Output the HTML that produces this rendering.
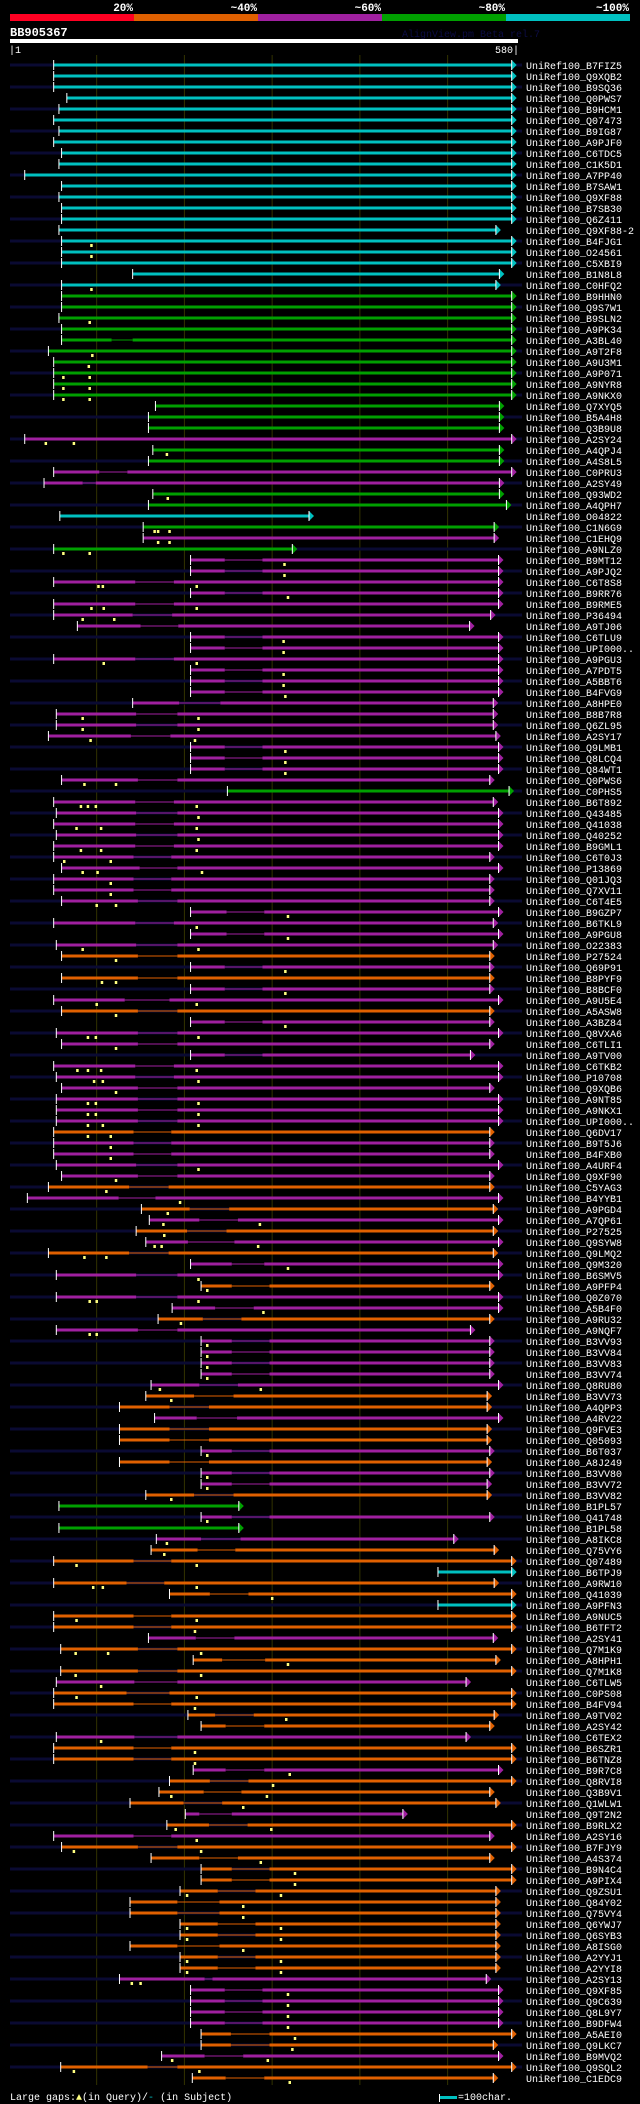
<!DOCTYPE html>
<html><head><meta charset="utf-8"><title>BB905367 alignment</title>
<style>
html,body{margin:0;padding:0;background:#000;}
svg{display:block;}
text{font-family:"Liberation Mono",monospace;}
</style></head>
<body>
<svg id="chart" width="640" height="2104" viewBox="0 0 640 2104" xmlns="http://www.w3.org/2000/svg">
<rect x="0" y="0" width="640" height="2104" fill="#000"/>
<g>
<rect x="10" y="14" width="124" height="7" fill="#ff0022"/>
<rect x="134" y="14" width="124" height="7" fill="#e06000"/>
<rect x="258" y="14" width="124" height="7" fill="#a020a0"/>
<rect x="382" y="14" width="124" height="7" fill="#00a000"/>
<rect x="506" y="14" width="124" height="7" fill="#00c0c0"/>
<text x="133" y="11" fill="#fff" font-size="11" font-weight="bold" text-anchor="end">20%</text>
<text x="257" y="11" fill="#fff" font-size="11" font-weight="bold" text-anchor="end">~40%</text>
<text x="381" y="11" fill="#fff" font-size="11" font-weight="bold" text-anchor="end">~60%</text>
<text x="505" y="11" fill="#fff" font-size="11" font-weight="bold" text-anchor="end">~80%</text>
<text x="629" y="11" fill="#fff" font-size="11" font-weight="bold" text-anchor="end">~100%</text>
</g>
<text x="10" y="36" fill="#fff" font-size="12" font-weight="bold">BB905367</text>
<text x="402" y="37" fill="#0c0c44" font-size="10">AlignView.pm Beta rel.7</text>
<rect x="10" y="39" width="508" height="4" fill="#fff"/>
<text x="9" y="53" fill="#fff" font-size="10">|1</text>
<text x="519" y="53" fill="#fff" font-size="10" text-anchor="end">580|</text>
<g id="grid"></g>
<g id="rows"></g>
<g>
<text x="10" y="2100" fill="#fff" font-size="10">Large gaps:<tspan fill="#ffff80">▲</tspan>(in Query)/<tspan fill="#00c0c0">-</tspan> (in Subject)</text>
<rect x="439" y="2094" width="1" height="8" fill="#fff"/>
<rect x="440" y="2096" width="17" height="3" fill="#00c0c0"/>
<text x="458" y="2100" fill="#fff" font-size="10">=100char.</text>
</g>
</svg>
<script>
const labels=[
"B7FIZ5","Q9XQB2","B9SQ36","Q0PWS7","B9HCM1","Q07473","B9IG87","A9PJF0","C6TDC5","C1K5D1",
"A7PP40","B7SAW1","Q9XF88","B7SB30","Q6Z411","Q9XF88-2","B4FJG1","O24561","C5XBI9","B1N8L8",
"C0HFQ2","B9HHN0","Q9S7W1","B9SLN2","A9PK34","A3BL40","A9T2F8","A9U3M1","A9P071","A9NYR8",
"A9NKX0","Q7XYQ5","B5A4H8","Q3B9U8","A2SY24","A4QPJ4","A4S8L5","C0PRU3","A2SY49","Q93WD2",
"A4QPH7","O04822","C1N6G9","C1EHQ9","A9NLZ0","B9MT12","A9PJQ2","C6T8S8","B9RR76","B9RME5",
"P36494","A9TJ06","C6TLU9","UPI000..","A9PGU3","A7PDT5","A5BBT6","B4FVG9","A8HPE0","B8B7R8",
"Q6ZL95","A2SY17","Q9LMB1","Q8LCQ4","Q84WT1","Q0PWS6","C0PHS5","B6T892","Q43485","Q41038",
"Q40252","B9GML1","C6T0J3","P13869","Q01JQ3","Q7XV11","C6T4E5","B9GZP7","B6TKL9","A9PGU8",
"O22383","P27524","Q69P91","B8PYF9","B8BCF0","A9U5E4","A5ASW8","A3BZ84","Q8VXA6","C6TLI1",
"A9TV00","C6TKB2","P10708","Q9XQB6","A9NT85","A9NKX1","UPI000..","Q6DV17","B9T5J6","B4FXB0",
"A4URF4","Q9XF90","C5YAG3","B4YYB1","A9PGD4","A7QP61","P27525","Q9SYW8","Q9LMQ2","Q9M320",
"B6SMV5","A9PFP4","Q0Z070","A5B4F0","A9RU32","A9NQF7","B3VV93","B3VV84","B3VV83","B3VV74",
"Q8RU80","B3VV73","A4QPP3","A4RV22","Q9FVE3","Q05093","B6T037","A8J249","B3VV80","B3VV72",
"B3VV82","B1PL57","Q41748","B1PL58","A8IKC8","Q75VY6","Q07489","B6TPJ9","A9RW10","Q41039",
"A9PFN3","A9NUC5","B6TFT2","A2SY41","Q7M1K9","A8HPH1","Q7M1K8","C6TLW5","C0PS08","B4FV94",
"A9TV02","A2SY42","C6TEX2","B6SZR1","B6TNZ8","B9R7C8","Q8RVI8","Q3B9V1","Q1WLW1","Q9T2N2",
"B9RLX2","A2SY16","B7FJY9","A4S374","B9N4C4","A9PIX4","Q9ZSU1","Q84Y02","Q75VY4","Q6YWJ7",
"Q6SYB3","A8ISG0","A2YYJ1","A2YYI8","A2SY13","Q9XF85","Q9C639","Q8L9Y7","B9DFW4","A5AEI0",
"Q9LKC7","B9MVQ2","Q9SQL2","C1EDC9"];
const colorCodes=[
"c","c","c","c","c","c","c","c","c","c",
"c","c","c","c","c","c","c","c","c","c",
"c","g","g","g","g","g","g","g","g","g",
"g","g","g","g","p","g","g","p","p","g",
"g","c","g","p","g","p","p","p","p","p",
"p","p","p","p","p","p","p","p","p","p",
"p","p","p","p","p","p","g","p","p","p",
"p","p","p","p","p","p","p","p","p","p",
"p","o","p","o","p","p","o","p","p","p",
"p","p","p","p","p","p","p","o","p","p",
"p","p","o","p","o","p","o","p","o","p",
"p","o","p","p","o","p","p","p","p","p",
"p","o","o","p","o","o","p","o","p","p",
"o","g","p","g","p","o","o","c","o","o",
"c","o","o","p","o","o","o","p","o","o",
"o","o","p","o","o","p","o","o","o","p",
"o","p","o","o","o","o","o","o","o","o",
"o","o","o","o","p","p","p","p","p","o",
"o","p","o","o"];
const starts=[
51,51,51,66,57,51,57,51,60,57,
18,60,57,60,60,57,60,60,60,141,
60,60,60,57,60,60,45,51,51,51,
51,167,159,159,18,164,159,51,40,164,
159,58,153,153,51,207,207,51,207,51,
51,78,207,207,51,207,207,207,141,54,
54,45,207,207,207,60,249,51,54,51,
54,51,51,60,51,51,60,207,51,207,
54,60,207,60,207,51,60,207,54,60,
207,51,54,60,54,54,54,51,51,51,
54,60,45,21,151,160,145,156,45,207,
54,219,54,186,170,54,219,219,219,219,
162,156,126,166,126,126,219,126,219,219,
156,57,219,57,168,162,51,489,51,183,
489,51,51,159,59,210,59,54,51,51,
204,219,54,51,51,210,183,171,138,201,
180,51,60,162,219,219,195,138,138,195,
195,138,195,195,126,207,207,207,207,219,
219,174,59,209];
const ends=[
573,573,573,573,573,573,573,573,573,573,
573,573,573,573,573,555,573,573,573,559,
555,573,573,573,573,573,573,573,573,573,
573,559,559,559,573,559,559,573,559,559,
567,342,553,553,323,558,558,558,558,558,
549,525,558,558,558,558,558,558,552,552,
552,555,558,558,558,548,570,552,558,558,
558,558,548,558,548,548,548,558,552,558,
552,548,548,548,548,558,548,548,558,548,
526,558,558,548,558,558,558,548,548,548,
558,548,548,558,552,558,552,558,552,558,
558,548,558,558,548,526,548,548,548,548,
558,545,545,558,545,545,548,545,548,545,
545,262,548,262,507,553,573,573,553,573,
573,573,573,552,573,555,573,521,573,573,
553,548,521,573,573,558,573,548,555,449,
573,548,573,548,573,573,555,555,555,555,
555,555,555,555,544,558,558,558,558,573,
552,558,573,552];
const thinStarts=[
0,0,0,0,0,0,0,0,0,0,
0,0,0,0,0,0,0,0,0,0,
0,0,0,0,0,117,0,0,0,0,
0,0,0,0,0,0,0,103,84,0,
0,0,0,0,0,246,246,144,246,144,
141,150,246,246,144,246,246,246,194,145,
145,139,246,246,246,147,0,144,145,144,
145,144,142,149,142,142,147,248,144,248,
145,147,246,147,246,132,147,246,147,147,
246,144,144,147,147,147,147,142,142,142,
145,147,137,125,206,217,203,204,137,254,
145,254,145,235,221,147,254,254,254,254,
217,211,183,214,183,183,254,183,254,254,
211,0,254,0,219,215,142,0,134,229,
0,142,142,213,147,243,147,143,134,142,
235,247,143,142,142,247,229,222,199,217,
228,142,147,217,254,254,238,192,192,238,
238,192,238,238,223,246,246,246,246,253,
253,223,158,247];
const thinEnds=[
0,0,0,0,0,0,0,0,0,0,
0,0,0,0,0,0,0,0,0,0,
0,0,0,0,0,141,0,0,0,0,
0,0,0,0,0,0,0,135,99,0,
0,0,0,0,0,289,289,188,289,188,
186,193,289,289,188,289,289,289,241,192,
192,184,289,289,289,192,0,188,192,188,
192,188,185,192,185,185,192,291,188,291,
192,192,289,192,289,183,192,289,192,192,
289,188,188,192,192,192,192,185,185,185,
192,192,182,167,251,261,248,257,182,291,
192,297,192,279,265,192,297,297,297,297,
261,256,228,260,228,228,297,228,297,297,
256,0,297,0,264,258,185,0,177,273,
0,185,185,257,192,292,192,192,183,185,
279,291,192,185,185,291,273,265,243,254,
272,185,192,261,297,297,281,240,240,281,
281,240,281,281,232,289,289,289,289,297,
297,267,192,291];
const queryGaps=[
[],[],[],[],[],[],[],[],[],[],
[],[],[],[],[],[],[94],[94],[],[],
[94],[],[],[92],[],[],[95],[91],[62,92],[62,92],
[62,92],[],[],[],[42,74],[180],[],[],[],[181],
[],[],[166,170,183],[170,183],[62,92],[314],[314],[102,107,214],[318],[94,108,214],
[84,120],[],[313],[313],[108,214],[313],[313],[315],[],[84,216],
[84,216],[93,212],[315],[315],[315],[86,122],[],[82,90,99,214],[216],[77,105,214],
[216],[82,105,214],[63,116],[84,101,220],[116],[116],[100,122],[318],[214],[318],
[84,216],[122],[315],[106,122],[315],[100,214],[122],[315],[90,99,216],[122],
[],[78,90,105,214],[97,107,216],[122],[90,99,216],[90,99,216],[90,107,216],[90,116],[116],[116],
[216],[122],[111],[195],[181],[176,286],[177],[166,174,284],[86,111],[318],
[216],[226],[92,100,216],[290],[196],[92,100],[226],[226],[226],[226],
[172,287],[185],[],[],[],[],[226],[],[226],[226],
[185],[],[226],[],[180],[177],[77,214],[],[96,107,214],[300],
[],[77,214],[212],[],[76,113,219],[318],[76,219],[105],[77,214],[212],
[316],[],[105],[212],[212],[320],[301],[185,294],[267],[],
[190,299],[214],[74,219],[287],[326],[326],[203,310],[267],[267],[203,310],
[203,310],[267],[203,310],[203,310],[140,150],[318],[318],[318],[318],[326],
[323],[186,295],[74,217],[320]];
const gridTicks=[100,200,300,400,500];

const palette={c:"#00c0c0",g:"#00a000",p:"#a020a0",o:"#e06000"};
const NS="http://www.w3.org/2000/svg";
function xScale(r){return 9.8+(r-1)*0.8774;}
function yScale(i){return 65+11*i;}
function mk(tag,attrs,parent){const e=document.createElementNS(NS,tag);for(const k in attrs)e.setAttribute(k,attrs[k]);parent.appendChild(e);return e;}
const grid=document.getElementById('grid');
gridTicks.forEach(t=>{
  const l=mk('line',{x1:xScale(t),x2:xScale(t),y1:55,y2:2085,stroke:'#333300','stroke-width':1},grid);
  
  
});
const rowsG=document.getElementById('rows');
labels.forEach((lab,i)=>{
  const y=yScale(i);
  const col=palette[colorCodes[i]]||"#a020a0";
  const g=mk('g',{},rowsG);
  
  
  if(i%2===0){
    const n=mk('rect',{x:10,y:y-1.5,width:512,height:3,fill:'#0a0a32'},g);
    
    
  }
  const s=xScale(starts[i]),e=xScale(ends[i]);
  const segs=[];
  if(thinStarts[i]>0){
    segs.push([starts[i],thinStarts[i],3]);segs.push([thinStarts[i],thinEnds[i],1]);segs.push([thinEnds[i],ends[i],3]);
  } else segs.push([starts[i],ends[i],3]);
  segs.forEach(sg=>{
    const a=xScale(sg[0]),b=xScale(sg[1]);
    const r=mk('rect',{x:a,y:y-sg[2]/2,width:Math.max(0,b-a),height:sg[2],fill:col},g);
    
    
  });
  const st=mk('rect',{x:s-0.5,y:y-5,width:1,height:10,fill:'#fff'},g);
  
  
  const ar=mk('polygon',{points:`${e},${y-5} ${e+5},${y} ${e},${y+5}`,fill:col},g);
  
  
  const ae=mk('rect',{x:e-0.5,y:y-5,width:1,height:10,fill:'#fff'},g);
  
  
  (queryGaps[i]||[]).forEach(q=>{
    const m=mk('rect',{x:xScale(q)-1.2,y:y+3,width:2.5,height:3,fill:'#ffff80'},g);
    
    
  });
  const t=mk('text',{x:526,y:y+4,fill:'#fff','font-size':10},g);
  
  
  t.textContent='UniRef100_'+lab;
});
</script>
</body></html>
